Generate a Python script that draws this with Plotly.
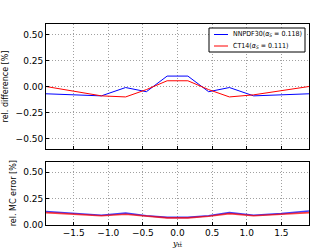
import plotly.graph_objects as go

y_tt = [-1.9, -1.1, -0.75, -0.45, -0.15, 0.15, 0.45, 0.75, 1.1, 1.9]
nnpdf_diff = [-0.07, -0.09, -0.01, -0.05, 0.10, 0.10, -0.05, -0.01, -0.09, -0.07]
ct14_diff = [0.00, -0.09, -0.10, -0.03, 0.055, 0.055, -0.03, -0.10, -0.08, 0.00]

y_err = [-1.9, -1.5, -1.1, -0.75, -0.45, -0.15, 0.15, 0.45, 0.75, 1.1, 1.5, 1.9]
nnpdf_err = [0.125, 0.105, 0.09, 0.11, 0.085, 0.07, 0.07, 0.085, 0.115, 0.09, 0.105, 0.13]
ct14_err = [0.115, 0.10, 0.085, 0.10, 0.08, 0.065, 0.065, 0.08, 0.105, 0.085, 0.10, 0.115]

labels = ["NNPDF30(<i>α<sub>S</sub></i> = 0.118)", "CT14(<i>α<sub>S</sub></i> = 0.111)"]
blue = "#0000ff"
red = "#ff0000"
colors = [blue, red]

fig = go.Figure()
fig.add_trace(go.Scatter(x=y_tt, y=nnpdf_diff, mode="lines", line=dict(color=blue, width=1), name=labels[0], xaxis="x", yaxis="y"))
fig.add_trace(go.Scatter(x=y_tt, y=ct14_diff, mode="lines", line=dict(color=red, width=1), name=labels[1], xaxis="x", yaxis="y"))
fig.add_trace(go.Scatter(x=y_err, y=nnpdf_err, mode="lines", line=dict(color=blue, width=1.6), opacity=0.75, xaxis="x2", yaxis="y2"))
fig.add_trace(go.Scatter(x=y_err, y=ct14_err, mode="lines", line=dict(color=red, width=1.6), opacity=0.75, xaxis="x2", yaxis="y2"))

font = dict(family="DejaVu Sans", size=9, color="black")
axcommon = dict(showline=True, linecolor="black", linewidth=1, mirror=True, ticks="inside", ticklen=3,
                tickcolor="black", showgrid=True, gridcolor="#a0a0a0", griddash="1px,2px", gridwidth=0.8,
                zeroline=False, tickfont=font, automargin=False)

# manual compact legend (box in paper coords)
lx0, lx1, ly0, ly1 = 209 / 332, 305 / 332, 1 - 52 / 249, 1 - 28 / 249
shapes = [dict(type="rect", xref="paper", yref="paper", x0=lx0, x1=lx1, y0=ly0, y1=ly1,
               line=dict(color="black", width=1), fillcolor="white", layer="above")]
annotations = []
for i, (lab, col) in enumerate(zip(labels, colors)):
    yy = 1 - (34.5 + 11.5 * i) / 249
    shapes.append(dict(type="line", xref="paper", yref="paper", x0=214 / 332, x1=228 / 332, y0=yy, y1=yy,
                       line=dict(color=col, width=1), layer="above"))
    annotations.append(dict(xref="paper", yref="paper", x=231 / 332, y=yy, xanchor="left", yanchor="middle",
                            text=lab, showarrow=False, font=dict(family="DejaVu Sans Condensed", size=7, color="black")))

fig.update_layout(
    width=332, height=249,
    margin=dict(l=0, r=0, t=0, b=0),
    paper_bgcolor="white", plot_bgcolor="white",
    showlegend=False,
    shapes=shapes, annotations=annotations,
    xaxis=dict(domain=[0.1386, 0.9307], range=[-1.9, 1.9], anchor="y", showticklabels=False,
               tickvals=[-1.5, -1.0, -0.5, 0.0, 0.5, 1.0, 1.5], **axcommon),
    yaxis=dict(domain=[0.4016, 0.9036], range=[-0.6, 0.6], anchor="x",
               tickvals=[-0.5, -0.25, 0, 0.25, 0.5], tickformat=".2f",
               title=dict(text="rel. difference [%]", font=dict(family="DejaVu Sans", size=8, color="black"), standoff=5),
               **axcommon),
    xaxis2=dict(domain=[0.1386, 0.9307], range=[-1.9, 1.9], anchor="y2",
                tickvals=[-1.5, -1.0, -0.5, 0.0, 0.5, 1.0, 1.5], tickformat=".1f",
                title=dict(text="<i>y</i><sub>tt̄</sub>", font=dict(family="DejaVu Serif", size=8, color="black"), standoff=2),
                **axcommon),
    yaxis2=dict(domain=[0.0976, 0.3506], range=[0, 0.6], anchor="x2",
                tickvals=[0, 0.25, 0.5], tickformat=".2f",
                title=dict(text="rel. MC error [%]", font=dict(family="DejaVu Sans", size=8, color="black"), standoff=5),
                **axcommon),
)

fig.write_html("out.html", config={"displayModeBar": False}, post_script="document.body.style.margin='0';")
